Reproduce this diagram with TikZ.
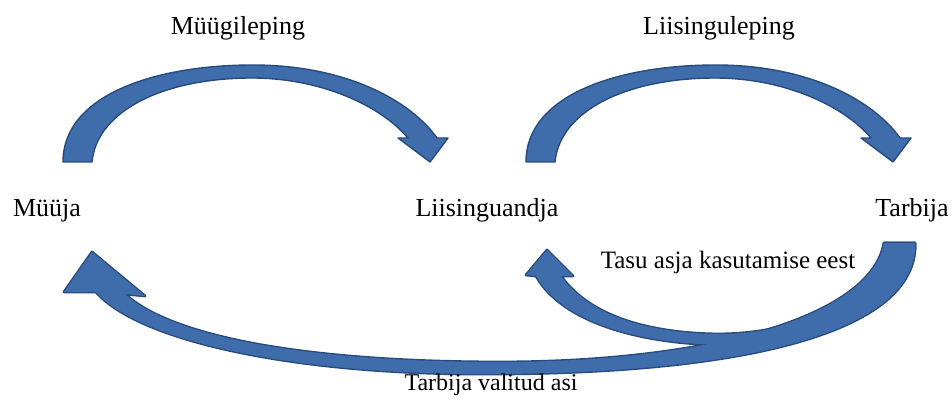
\documentclass[tikz,border=0pt]{standalone}
\usepackage{fontspec}
\setmainfont{Liberation Serif}

\definecolor{arrowfill}{RGB}{63,109,172}
\definecolor{arrowline}{RGB}{40,75,125}

% block arrow outlines, picture units are pixels (y downwards)
\def\bigarrow{(884,243) -- (915,243) .. controls (918,322) and (780,372) .. (500,374)
  .. controls (300,376) and (140,342) .. (96,292) -- (64,292) -- (92,252) -- (145,296) -- (125,294)
  .. controls (175,340) and (320,362) .. (500,362) .. controls (700,362) and (870,320) .. (884,243) -- cycle}
\def\smallarrow{(884,243) -- (915,243) .. controls (916,310) and (820,345) .. (730,345)
  .. controls (640,345) and (562,322) .. (536,276) -- (526,275) -- (547,250) -- (573,276) -- (561,276)
  .. controls (590,317) and (650,333) .. (717,334) .. controls (800,334) and (876,300) .. (884,243) -- cycle}

\begin{document}
\begin{tikzpicture}[x=1pt, y=-1pt,
    party/.style={font=\fontsize{26}{30}\selectfont, anchor=base, inner sep=0pt},
    deal/.style={font=\fontsize{26}{30}\selectfont, anchor=base, inner sep=0pt},
    flow/.style={font=\fontsize{24}{28}\selectfont, anchor=base, inner sep=0pt},
    blockarrow/.style={fill=arrowfill, draw=arrowline, line width=1.4pt, line join=round},
    blockedge/.style={fill=arrowfill, draw=arrowline, line width=2.8pt, line join=round},
    blockfill/.style={fill=arrowfill},
    pics/toparrow/.style={code={
      \path[blockarrow] (63,162) .. controls (63,95) and (155,65) .. (253,65)
        .. controls (345,65) and (410,100) .. (437,138) -- (448,138) -- (430,162) -- (398,138) -- (408,138)
        .. controls (380,105) and (320,78) .. (252,78) .. controls (165,78) and (97,110) .. (92,162) -- cycle;
    }}]
    \useasboundingbox (0,0) rectangle (952,398);

    % parties
    \node[party] (seller) at (47,216) {Müüja};
    \node[party] (lessor) at (487,216) {Liisinguandja};
    \node[party] (user) at (912,216) {Tarbija};

    % contracts
    \pic (sale) at (0,0) {toparrow};
    \pic (lease) at (463,0) {toparrow};
    \node[deal] (salelbl) at (238,35) {Müügileping};
    \node[deal] (leaselbl) at (719,35) {Liisinguleping};

    % flows back from the user
    \path[blockedge] \bigarrow;
    \path[blockedge] \smallarrow;
    \path[blockfill] \bigarrow;
    \path[blockfill] \smallarrow;
    \node[flow, font=\fontsize{25}{29}\selectfont] (feelbl) at (728,268) {Tasu asja kasutamise eest};
    \node[flow] (itemlbl) at (491,390) {Tarbija valitud asi};
\end{tikzpicture}
\end{document}
